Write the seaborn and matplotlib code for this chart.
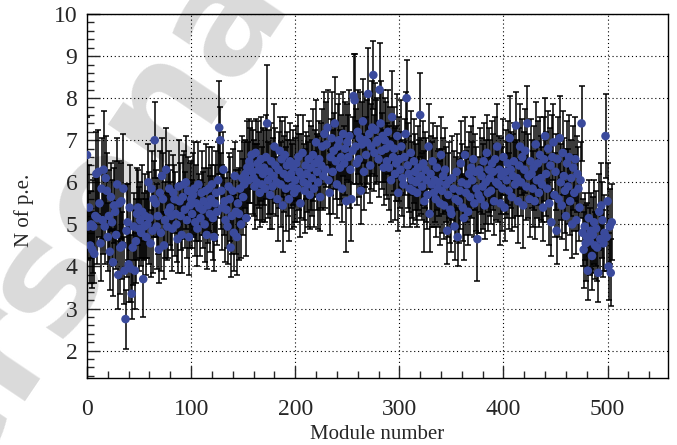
import numpy as np
import pandas as pd
import seaborn as sns
import matplotlib.pyplot as plt

# mean number of photoelectrons per module
n_pe = [
    6.65, 4.95, 5.40, 4.50, 5.00, 4.40, 4.95, 4.30, 5.20, 6.20,
    5.15, 6.25, 5.50, 4.55, 5.85, 5.10, 6.30, 4.95, 6.10, 5.80,
    4.70, 5.20, 4.35, 5.65, 5.05, 4.10, 5.45, 5.30, 4.75, 5.95,
    3.80, 5.50, 4.45, 5.55, 4.50, 5.85, 3.90, 2.75, 4.85, 5.05,
    4.05, 5.40, 3.95, 3.35, 4.45, 4.95, 3.90, 4.60, 5.25, 5.40,
    4.90, 5.10, 4.80, 5.30, 3.70, 4.95, 5.20, 4.70, 5.00, 6.00,
    5.15, 4.55, 5.85, 4.85, 5.60, 7.00, 5.50, 4.95, 5.20, 4.40,
    5.75, 4.80, 6.15, 5.60, 4.50, 5.10, 6.30, 4.95, 5.30, 5.85,
    5.40, 5.20, 4.90, 5.75, 5.60, 5.25, 5.00, 4.65, 5.90, 5.55,
    5.20, 4.75, 5.65, 5.95, 5.35, 6.00, 5.10, 5.80, 4.70, 5.45,
    5.60, 5.25, 5.70, 5.85, 5.05, 5.50, 4.90, 5.95, 5.40, 5.15,
    5.75, 5.35, 5.55, 5.00, 5.80, 4.75, 5.45, 5.85, 5.25, 5.60,
    5.95, 5.15, 4.70, 5.50, 5.75, 5.30, 6.05, 7.30, 7.00, 5.80,
    5.40, 6.30, 5.55, 5.10, 5.35, 4.95, 5.90, 5.60, 4.45, 5.20,
    5.80, 4.80, 6.15, 5.30, 4.70, 5.50, 5.25, 5.85, 5.00, 6.10,
    5.65, 5.95, 6.20, 5.15, 6.35, 6.05, 6.50, 6.40, 6.65, 6.25,
    6.10, 5.90, 6.70, 6.00, 6.45, 6.30, 5.75, 6.55, 5.95, 6.20,
    6.35, 5.85, 6.60, 7.40, 6.05, 6.25, 5.70, 6.50, 5.90, 6.15,
    6.85, 6.40, 6.00, 5.60, 6.30, 6.75, 5.95, 6.55, 5.45, 6.20,
    6.65, 5.85, 6.40, 6.10, 5.60, 6.50, 6.20, 5.90, 6.35, 5.75,
    6.05, 6.45, 5.85, 6.60, 6.25, 5.50, 6.15, 6.70, 6.00, 5.80,
    6.40, 6.20, 5.95, 6.55, 5.70, 6.35, 6.10, 6.65, 5.85, 6.45,
    6.95, 6.25, 6.00, 6.55, 5.65, 6.40, 6.85, 6.15, 7.15, 6.30,
    6.90, 7.30, 6.05, 5.75, 6.60, 7.05, 6.25, 6.75, 7.40, 6.50,
    5.95, 6.85, 7.00, 6.35, 6.60, 5.85, 7.15, 6.45, 6.80, 5.55,
    6.95, 6.60, 7.10, 6.30, 5.60, 6.75, 8.05, 7.95, 6.85, 6.45,
    7.20, 6.55, 7.05, 5.80, 6.90, 7.45, 6.25, 7.00, 6.65, 6.95,
    8.10, 7.15, 6.40, 6.85, 7.30, 8.55, 6.70, 7.25, 6.95, 7.00,
    6.55, 8.20, 7.40, 6.75, 7.10, 6.35, 7.00, 6.80, 6.50, 7.20,
    6.35, 6.90, 6.05, 7.55, 6.60, 6.80, 6.20, 6.45, 7.10, 5.75,
    6.55, 6.30, 6.85, 6.10, 5.95, 6.60, 7.15, 8.00, 6.40, 6.20,
    5.85, 6.70, 6.05, 5.80, 6.50, 6.25, 6.00, 5.75, 6.35, 6.10,
    7.60, 6.15, 5.90, 6.45, 5.55, 6.30, 6.05, 5.70, 6.85, 5.25,
    6.20, 5.95, 6.50, 5.75, 6.05, 5.60, 6.35, 5.85, 6.00, 5.50,
    6.65, 5.80, 6.15, 5.45, 6.30, 5.95, 4.85, 5.70, 6.05, 5.35,
    5.25, 6.10, 5.85, 4.95, 5.60, 6.25, 4.70, 5.55, 5.80, 6.45,
    6.00, 5.40, 5.15, 6.65, 5.75, 5.95, 5.30, 6.20, 5.65, 6.35,
    6.05, 6.55, 5.50, 6.25, 5.85, 4.65, 5.70, 6.30, 5.60, 6.15,
    5.90, 6.50, 5.45, 6.00, 6.70, 5.75, 6.30, 6.10, 5.80, 6.45,
    6.25, 5.55, 6.55, 6.00, 6.85, 5.95, 6.30, 5.50, 6.15, 5.85,
    6.60, 5.40, 6.25, 6.05, 6.45, 5.80, 7.05, 6.30, 5.65, 6.15,
    6.50, 5.95, 7.35, 6.10, 5.55, 6.40, 6.85, 6.00, 6.60, 5.45,
    6.30, 6.75, 5.90, 7.40, 6.15, 5.60, 6.50, 6.20, 5.85, 6.35,
    5.55, 6.90, 6.05, 6.45, 5.75, 6.65, 6.10, 5.95, 5.40, 6.55,
    7.10, 6.20, 5.85, 6.80, 5.50, 6.40, 5.05, 6.60, 6.95, 5.70,
    6.25, 4.85, 6.55, 5.60, 7.05, 6.00, 5.45, 6.70, 6.15, 5.80,
    5.20, 6.45, 5.90, 6.60, 5.55, 6.10, 5.00, 6.35, 5.75, 6.55,
    5.10, 6.20, 5.85, 5.40, 6.05, 7.40, 4.80, 4.40, 4.95, 4.55,
    4.70, 3.90, 5.15, 4.60, 4.85, 4.25, 4.75, 5.05, 4.50, 4.90,
    4.45, 3.85, 5.30, 4.65, 5.45, 5.10, 4.55, 4.80, 7.10, 4.70,
    5.55, 4.00, 4.95, 3.85, 5.05,
]

# error bar half-lengths
n_pe_err = [
    0.9, 0.8, 1.0, 0.9, 0.8, 0.9, 1.1, 0.7, 0.9, 1.0,
    1.1, 1.0, 0.8, 0.9, 1.2, 0.8, 1.4, 0.9, 1.0, 0.9,
    0.8, 1.1, 0.9, 0.8, 1.0, 0.8, 0.9, 1.2, 0.8, 1.1,
    0.8, 1.0, 1.1, 0.9, 0.8, 1.3, 0.8, 0.7, 1.1, 0.9,
    0.9, 1.0, 0.8, 0.6, 0.9, 0.8, 0.9, 1.0, 1.1, 0.9,
    1.0, 0.9, 0.8, 1.1, 0.9, 0.8, 1.0, 0.9, 0.8, 0.9,
    1.1, 0.8, 0.9, 1.0, 0.9, 0.9, 0.8, 1.0, 0.9, 0.8,
    1.0, 0.9, 0.9, 1.1, 0.8, 0.9, 1.0, 0.8, 1.1, 0.9,
    0.9, 0.8, 1.0, 0.9, 0.8, 1.0, 0.9, 0.8, 1.1, 0.9,
    0.8, 0.9, 1.0, 0.8, 0.9, 1.1, 0.9, 0.8, 0.9, 1.0,
    0.9, 0.8, 1.0, 1.1, 0.8, 0.9, 0.9, 1.0, 0.8, 0.9,
    1.0, 0.9, 0.8, 0.9, 1.1, 0.8, 0.9, 1.0, 0.9, 0.8,
    0.9, 1.0, 0.8, 0.9, 1.0, 0.8, 0.9, 1.1, 0.8, 0.9,
    1.0, 0.9, 0.8, 1.0, 0.9, 0.9, 0.8, 1.0, 0.7, 0.9,
    1.0, 0.9, 0.8, 1.0, 0.9, 0.8, 1.1, 0.9, 0.8, 1.0,
    0.9, 1.0, 0.8, 0.9, 1.1, 0.9, 1.0, 0.9, 0.8, 1.0,
    0.9, 1.0, 0.8, 0.9, 1.0, 0.9, 0.8, 1.0, 0.9, 1.1,
    0.9, 0.8, 1.0, 1.4, 0.9, 1.0, 0.8, 0.9, 1.0, 0.9,
    1.0, 0.9, 0.8, 1.0, 0.9, 0.8, 1.0, 0.9, 1.1, 0.9,
    0.9, 1.0, 0.8, 0.9, 1.0, 0.9, 0.8, 1.0, 0.9, 0.8,
    1.0, 0.9, 0.8, 1.0, 0.9, 0.8, 1.0, 0.9, 0.9, 1.0,
    0.8, 0.9, 1.0, 0.9, 0.8, 1.0, 0.9, 1.1, 0.9, 0.8,
    1.0, 0.9, 1.1, 0.9, 0.8, 1.0, 0.9, 0.8, 1.0, 0.9,
    1.0, 0.9, 0.8, 1.0, 0.9, 1.1, 1.0, 0.9, 1.1, 0.9,
    0.8, 1.0, 1.1, 0.9, 1.0, 0.8, 1.0, 0.9, 1.1, 1.2,
    0.9, 1.0, 1.1, 0.9, 1.0, 0.8, 1.0, 1.1, 0.9, 1.0,
    1.0, 0.9, 1.1, 0.8, 1.0, 1.0, 0.9, 1.1, 0.9, 1.0,
    1.1, 1.0, 0.9, 1.0, 1.1, 0.8, 0.9, 1.1, 1.0, 1.0,
    0.9, 1.1, 1.0, 0.9, 1.1, 0.9, 1.0, 1.1, 0.9, 1.0,
    1.0, 0.9, 1.0, 1.1, 0.9, 1.0, 1.1, 0.9, 1.0, 0.9,
    1.0, 0.9, 1.1, 0.9, 1.0, 0.9, 1.0, 0.9, 1.0, 0.9,
    0.9, 1.0, 0.9, 0.8, 1.0, 0.9, 0.9, 0.8, 1.0, 0.9,
    1.0, 0.9, 0.8, 1.0, 1.2, 0.9, 1.0, 0.8, 1.0, 0.9,
    0.9, 1.0, 0.9, 0.8, 1.0, 0.9, 1.0, 0.9, 0.8, 1.0,
    0.9, 1.0, 0.9, 0.8, 1.0, 0.9, 0.8, 1.0, 0.9, 0.8,
    0.9, 1.0, 0.9, 0.8, 1.0, 0.9, 0.7, 1.0, 0.9, 1.0,
    0.9, 0.8, 1.0, 0.9, 1.0, 0.9, 0.8, 1.0, 0.9, 1.0,
    0.9, 1.0, 0.8, 0.9, 1.0, 1.0, 0.9, 1.0, 0.8, 0.9,
    1.0, 0.9, 0.8, 1.0, 0.9, 0.9, 1.0, 0.9, 0.8, 1.0,
    0.9, 0.8, 1.0, 0.9, 1.0, 0.9, 0.8, 1.0, 0.9, 1.0,
    0.9, 0.8, 1.0, 0.9, 1.0, 0.9, 1.0, 0.9, 0.8, 1.0,
    0.9, 1.0, 0.8, 0.9, 1.0, 0.9, 1.0, 0.8, 0.9, 1.0,
    0.9, 1.0, 0.8, 0.9, 1.0, 0.9, 1.0, 0.8, 0.9, 1.0,
    0.9, 1.0, 0.9, 1.0, 0.8, 0.9, 1.0, 0.9, 0.8, 1.0,
    0.9, 1.0, 0.8, 0.9, 1.0, 0.9, 0.8, 1.0, 0.9, 1.0,
    0.9, 0.8, 1.0, 0.9, 1.0, 0.9, 0.8, 1.0, 0.9, 1.0,
    0.8, 1.0, 0.9, 1.0, 0.8, 0.9, 0.8, 1.0, 0.9, 1.0,
    0.8, 0.9, 1.0, 0.8, 0.9, 0.9, 0.8, 0.9, 0.8, 0.9,
    0.8, 0.7, 0.9, 0.8, 0.9, 0.8, 0.9, 1.0, 0.8, 0.9,
    0.8, 0.7, 0.9, 0.8, 1.0, 0.9, 0.8, 0.9, 1.0, 0.8,
    0.9, 0.8, 0.9, 0.8, 0.9,
]

x_ticks = [0, 100, 200, 300, 400, 500]
y_ticks = [2, 3, 4, 5, 6, 7, 8, 9, 10]

df = pd.DataFrame({"module": np.arange(len(n_pe)), "npe": n_pe, "err": n_pe_err})

sns.set_style("ticks")
plt.rcParams["font.family"] = ["Liberation Serif", "DejaVu Serif"]

fig = plt.figure(figsize=(6.77, 4.45), dpi=100)
ax = fig.add_axes([0.1285, 0.1506, 0.8582, 0.8179])
ax.set_facecolor("none")

# grey watermark behind the plot
fig.text(0.1, 0.46, "Personal", rotation=56, fontsize=112, fontweight="bold",
         color="#dadada", ha="center", va="center", zorder=-5,
         family="DejaVu Sans")

ax.errorbar(df["module"], df["npe"], yerr=df["err"], fmt="none",
            ecolor="black", elinewidth=1.1, capsize=2, capthick=1.1, zorder=2)
sns.scatterplot(data=df, x="module", y="npe", ax=ax, color="#3a4a9c",
                s=38, edgecolor="none", zorder=3, legend=False)

ax.set_xlim(0, 558)
ax.set_ylim(1.35, 10)
ax.set_xticks(x_ticks)
ax.set_yticks(y_ticks)
ax.set_xticks(np.arange(0, 560, 20), minor=True)
ax.set_yticks(np.arange(1.4, 10.01, 0.2), minor=True)

ax.grid(True, which="major", color="black", linestyle=(0, (1, 2.5)), linewidth=0.8)
ax.tick_params(axis="both", which="major", direction="in", length=9, width=1,
               labelsize=17, top=False, right=False)
ax.tick_params(axis="x", which="major", pad=15)
ax.tick_params(axis="y", which="major", pad=7)
ax.tick_params(axis="both", which="minor", direction="in", length=5, width=1,
               top=False, right=False)
for sp in ax.spines.values():
    sp.set_linewidth(1.0)
    sp.set_color("black")

ax.set_xlabel("Module number", fontsize=15)
ax.set_ylabel("N of p.e.", fontsize=15)
ax.xaxis.set_label_coords(0.5, -0.13)
ax.yaxis.set_label_coords(-0.092, 0.46)

fig.savefig("out.png", dpi=100)
